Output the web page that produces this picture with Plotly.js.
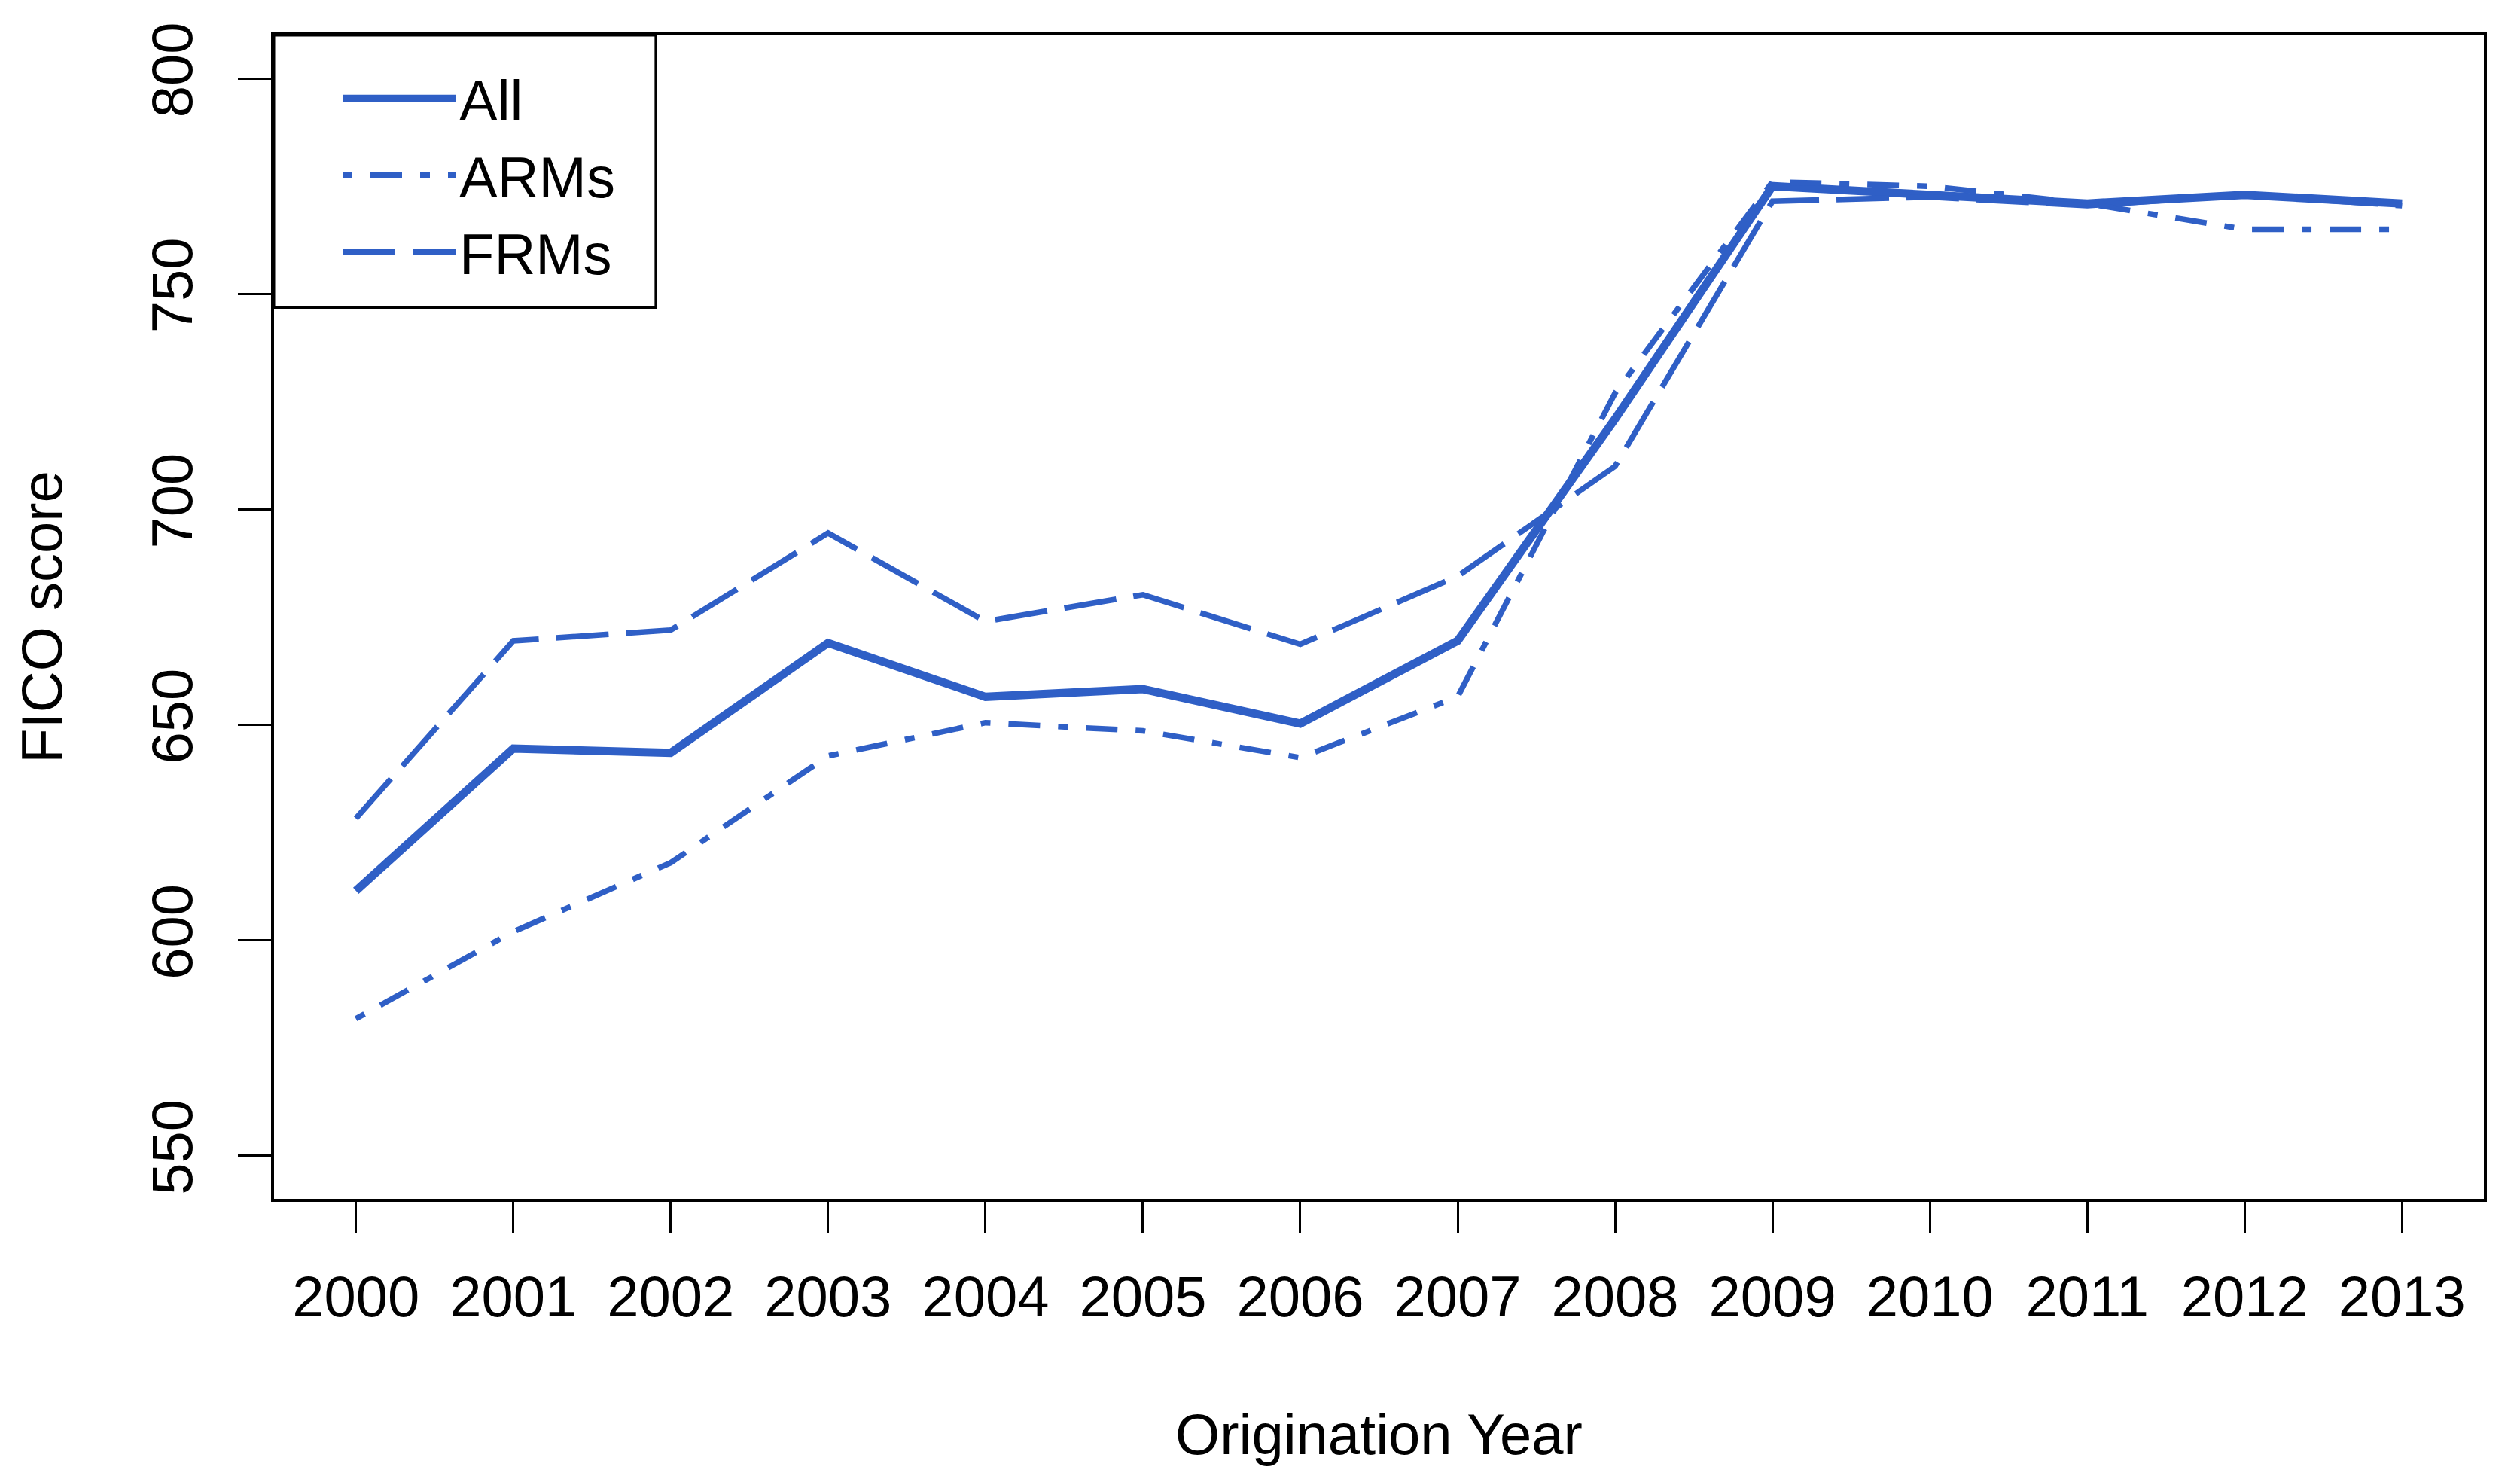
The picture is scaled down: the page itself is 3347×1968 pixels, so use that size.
<!DOCTYPE html>
<html>
<head>
<meta charset="utf-8">
<script src="https://cdn.plot.ly/plotly-3.0.1.min.js"></script>
<style>
  html, body { margin: 0; padding: 0; background: #ffffff; }
  #chart { width: 3347px; height: 1968px; }
</style>
</head>
<body>
<div id="chart"></div>
<script>
// ---- Data ----
const years = [2000, 2001, 2002, 2003, 2004, 2005, 2006, 2007, 2008, 2009, 2010, 2011, 2012, 2013];
const xTickLabels = ["2000", "2001", "2002", "2003", "2004", "2005", "2006", "2007", "2008", "2009", "2010", "2011", "2012", "2013"];
const allScore = [611.5, 644.5, 643.5, 669, 656.5, 658.3, 650.3, 669.5, 721, 775, 773, 771, 773, 771];
const armScore = [581.8, 602, 618, 642.8, 650.5, 648.6, 642.4, 656.5, 727, 776, 775, 771, 765, 765];
const frmScore = [628.3, 669.5, 672, 694.5, 674, 680.2, 668.7, 684.5, 710, 771.5, 772.5, 770.5, 773, 770.5];
const yTickVals = [550, 600, 650, 700, 750, 800];
const seriesNames = ["All", "ARMs", "FRMs"];

const lineColor = "#2F5FC6";
const fontFamily = "Liberation Sans, Arial, Helvetica, sans-serif";

const traces = [
  { x: years, y: allScore, name: seriesNames[0], type: "scatter", mode: "lines",
    line: { color: lineColor, width: 11, dash: "solid" } },
  { x: years, y: armScore, name: seriesNames[1], type: "scatter", mode: "lines",
    line: { color: lineColor, width: 7.5, dash: "13px,24px,42px,24px" } },
  { x: years, y: frmScore, name: seriesNames[2], type: "scatter", mode: "lines",
    line: { color: lineColor, width: 7.5, dash: "70px,23px" } }
];

const layout = {
  width: 3347,
  height: 1968,
  margin: { l: 364, r: 48, t: 47, b: 376, pad: 0 },
  paper_bgcolor: "#ffffff",
  plot_bgcolor: "#ffffff",
  font: { family: fontFamily, size: 76, color: "#000000" },
  showlegend: true,
  legend: {
    x: 0.0293, y: 0.982, xref: "paper", yref: "paper",
    xanchor: "left", yanchor: "top",
    bgcolor: "rgba(255,255,255,0)",
    borderwidth: 0,
    font: { family: fontFamily, size: 76, color: "#000000" },
    itemwidth: 150,
    tracegroupgap: 0
  },
  shapes: [
    { type: "rect", xref: "paper", yref: "paper",
      x0: 0, x1: 0.1727, y0: 0.766, y1: 1,
      line: { color: "#000000", width: 3 },
      fillcolor: "rgba(255,255,255,0)", layer: "above" }
  ],
  xaxis: {
    range: [1999.48, 2013.52],
    tickmode: "array",
    tickvals: years,
    ticktext: xTickLabels,
    ticks: "outside",
    ticklen: 42,
    tickwidth: 3,
    tickcolor: "#000000",
    showline: true,
    linecolor: "#000000",
    linewidth: 4,
    mirror: true,
    showgrid: false,
    zeroline: false,
    automargin: false,
    ticklabelstandoff: 19,
    tickfont: { family: fontFamily, size: 76, color: "#000000" },
    title: { text: "Origination Year", standoff: 116,
             font: { family: fontFamily, size: 76, color: "#000000" } }
  },
  yaxis: {
    range: [540, 810],
    tickmode: "array",
    tickvals: yTickVals,
    ticks: "outside",
    ticklen: 44,
    tickwidth: 3,
    tickcolor: "#000000",
    tickangle: -90,
    showline: true,
    linecolor: "#000000",
    linewidth: 4,
    mirror: true,
    showgrid: false,
    zeroline: false,
    automargin: false,
    ticklabelstandoff: 31,
    tickfont: { family: fontFamily, size: 76, color: "#000000" },
    title: { text: "FICO score", standoff: 79,
             font: { family: fontFamily, size: 76, color: "#000000" } }
  }
};

Plotly.newPlot("chart", traces, layout, { staticPlot: true, displayModeBar: false });
</script>
</body>
</html>
